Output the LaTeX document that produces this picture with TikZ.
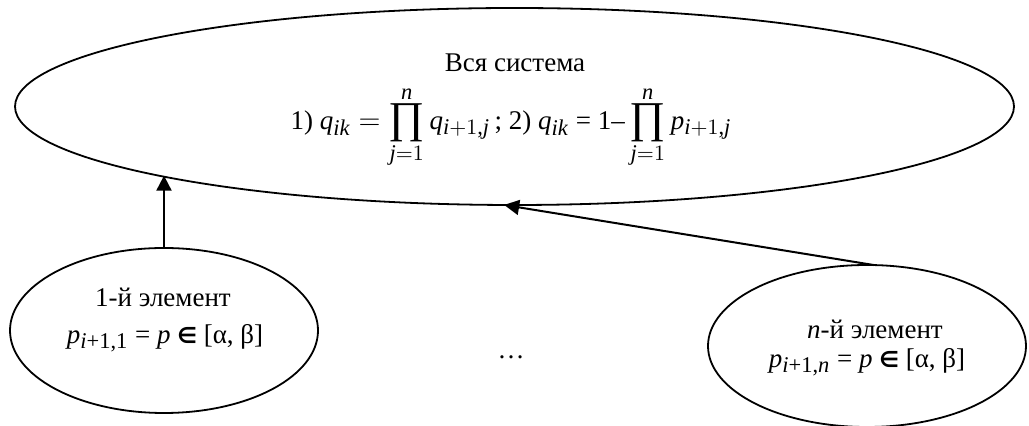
\documentclass[tikz,border=0pt]{standalone}
\usepackage{fontspec}
\setmainfont{Liberation Serif}
\usepackage[italic]{mathastext}
\newfontfamily\symbfont{DejaVu Sans}
\usetikzlibrary{shapes.geometric, arrows.meta}
\newcommand{\bigprod}{\mathop{\vcenter{\hbox{\fontsize{22}{22}\selectfont ∏}}}\limits}
\newcommand{\elin}{{\fontsize{11}{11}\selectfont\symbfont\bfseries ∈}}

\begin{document}
\begin{tikzpicture}[
  x=0.5pt, y=-0.5pt,
  font=\fontsize{13.5}{16}\selectfont,
  sysell/.style={
    draw,
    line width=0.9pt,
    ellipse,
    inner sep=0pt,
    outer sep=0pt,
    minimum width=499.5pt,
    minimum height=98.5pt
  },
  elemell/.style={
    draw,
    line width=0.9pt,
    ellipse,
    inner sep=0pt,
    outer sep=0pt
  },
  txt/.style={anchor=base, inner sep=0pt},
  uparrow/.style={-{Triangle[length=7.5pt,width=7.5pt]}, line width=1pt}
]
  \useasboundingbox (0,0) rectangle (1029,426);

  % --- Whole system on top ---
  \node[sysell] (sys) at (514.5,106.5) {};
  \node[txt] (systitle) at (515,72) {Вся система};
  \node[txt] (sysform) at (511,130)
    {1)~$\displaystyle q_{ik}=\bigprod_{j=1}^{n}q_{i+1,j}$\,; 2) \textit{q}\textsubscript{\textit{ik}} = 1$-\displaystyle\bigprod_{j=1}^{n}p_{i+1,j}$};

  % --- Elements below ---
  \node[elemell, minimum width=154pt, minimum height=82.5pt] (e1) at (164,330.5) {};
  \node[txt] (e1name) at (163,307) {1-й элемент};
  \node[txt] (e1prob) at (165,344)
    {\textit{p}\textsubscript{\textit{i}+1,1} = \textit{p} \elin{} [α, β]};

  \node[elemell, minimum width=159pt, minimum height=81pt] (en) at (867,346) {};
  \node[txt] (enname) at (875,339) {\textit{n}-й элемент};
  \node[txt] (enprob) at (867,368)
    {\textit{p}\textsubscript{\textit{i}+1,\textit{n}} = \textit{p} \elin{} [α, β]};

  \node[txt] (dots) at (511,359) {\ldots};

  % Arrows up into the system
  \draw[uparrow] (e1) -- (e1 |- sys.191.4);
  \draw[uparrow] (en.85) -- (sys.264.5);
\end{tikzpicture}
\end{document}
